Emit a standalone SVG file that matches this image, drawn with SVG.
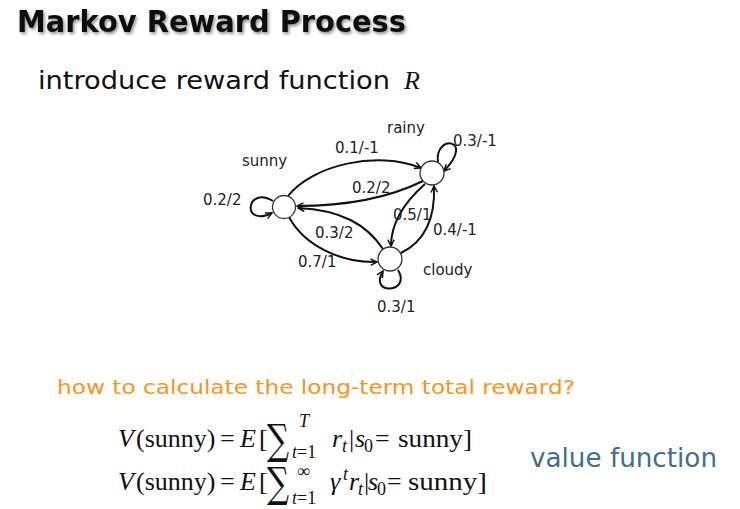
<svg xmlns="http://www.w3.org/2000/svg" width="740" height="509" viewBox="0 0 740 509">
<defs>
<filter id="shadow" x="-5%" y="-30%" width="110%" height="170%">
<feDropShadow dx="1.5" dy="2" stdDeviation="1.6" flood-color="#444" flood-opacity="0.6"/>
</filter>
<marker id="arr" viewBox="0 0 10 10" refX="9" refY="5" markerWidth="8" markerHeight="8" markerUnits="userSpaceOnUse" orient="auto">
<path d="M1,1 L9,5 L1,9" fill="none" stroke="#111" stroke-width="1.8" stroke-linejoin="miter"/>
</marker>
<style>
.hand{font-family:"Comic Sans MS","DejaVu Sans",sans-serif;}
.lbl{font-family:"Comic Sans MS","DejaVu Sans",sans-serif;font-size:15px;fill:#222;}
.node{fill:#fff;stroke:#333;stroke-width:1.3;}
.edge{fill:none;stroke:#111;stroke-width:2;marker-end:url(#arr);}
.m{font-family:"Liberation Serif","DejaVu Serif",serif;font-size:26px;fill:#111;}
.sig{font-family:"DejaVu Serif",serif;font-size:31px;fill:#111;}
.mi{font-style:italic;}
.s{font-size:18px;}
</style>
</defs>
<rect width="740" height="509" fill="#fff"/>

<text class="hand" x="17" y="32" font-size="30" font-weight="bold" fill="#111" textLength="389" lengthAdjust="spacingAndGlyphs" filter="url(#shadow)">Markov Reward Process</text>
<text class="hand" x="38" y="89" font-size="25" fill="#111" textLength="352" lengthAdjust="spacingAndGlyphs">introduce reward function</text>
<text class="m mi" x="404" y="89" font-size="27">R</text>

<g id="connectors">
<path class="edge" d="M288,196 C312,165 378,150 421,168"/>
<path class="edge" d="M423,181 Q372,206 297,206"/>
<path class="edge" d="M383,249 C367,225 342,210 298,208"/>
<path class="edge" d="M289,217 C304,245 340,263 377,262"/>
<path class="edge" d="M425,184 Q391,214 391,246"/>
<path class="edge" d="M401,253 Q436,236 434,186"/>
<path class="edge" d="M273,201 C246,185 241,228 272,213"/>
<path class="edge" d="M438,162 C434,134 476,138 444,171"/>
<path class="edge" d="M398,270 C412,293 368,296 383,271"/>
</g>

<g id="sunny"><circle class="node" cx="284" cy="207" r="11.5"/><text class="lbl" x="242" y="166">sunny</text></g>
<g id="rainy"><circle class="node" cx="432" cy="173" r="12"/><text class="lbl" x="387" y="133">rainy</text></g>
<g id="cloudy"><circle class="node" cx="390" cy="259" r="12"/><text class="lbl" x="423" y="275">cloudy</text></g>

<g id="edge-labels">
<text class="lbl" x="335" y="153">0.1/-1</text>
<text class="lbl" x="453" y="146">0.3/-1</text>
<text class="lbl" x="352" y="193">0.2/2</text>
<text class="lbl" x="203" y="205">0.2/2</text>
<text class="lbl" x="393" y="220">0.5/1</text>
<text class="lbl" x="315" y="238">0.3/2</text>
<text class="lbl" x="433" y="235">0.4/-1</text>
<text class="lbl" x="298" y="267">0.7/1</text>
<text class="lbl" x="377" y="312">0.3/1</text>
</g>

<text class="hand" x="57" y="394" font-size="20" fill="#F7941D" textLength="518" lengthAdjust="spacingAndGlyphs">how to calculate the long-term total reward?</text>

<g id="eq1">
<text class="m mi" x="118" y="447">V</text>
<text class="m" x="136" y="447">(sunny)</text>
<text class="m" x="220" y="447">=</text>
<text class="m mi" x="240" y="447">E</text>
<text class="m" x="259" y="447">[</text>
<text class="sig" transform="translate(267,454) scale(1,1.35)">∑</text>
<text class="m mi s" x="299" y="427">T</text>
<text class="m s" x="292" y="458"><tspan font-style="italic">t</tspan>=1</text>
<text class="m mi" x="332" y="447">r</text>
<text class="m mi s" x="342" y="452">t</text>
<text class="m" x="349" y="447">|</text>
<text class="m mi" x="355" y="447">s</text>
<text class="m s" x="364" y="452">0</text>
<text class="m" x="375" y="447">=</text>
<text class="m" x="398" y="447" textLength="74" lengthAdjust="spacingAndGlyphs">sunny]</text>
</g>

<g id="eq2">
<text class="m mi" x="118" y="490">V</text>
<text class="m" x="136" y="490">(sunny)</text>
<text class="m" x="220" y="490">=</text>
<text class="m mi" x="240" y="490">E</text>
<text class="m" x="259" y="490">[</text>
<text class="sig" transform="translate(267,497) scale(1,1.35)">∑</text>
<text class="m s" x="297" y="477">∞</text>
<text class="m s" x="292" y="504"><tspan font-style="italic">t</tspan>=1</text>
<text class="m mi" x="330" y="490">γ</text>
<text class="m mi s" x="343" y="480">t</text>
<text class="m mi" x="349" y="490">r</text>
<text class="m mi s" x="358" y="495">t</text>
<text class="m" x="364" y="490">|</text>
<text class="m mi" x="368" y="490">s</text>
<text class="m s" x="377" y="495">0</text>
<text class="m" x="387" y="490">=</text>
<text class="m" x="408" y="490" textLength="79" lengthAdjust="spacingAndGlyphs">sunny]</text>
</g>

<text class="hand" x="530" y="467" font-size="26" fill="#3F6F8F" textLength="187" lengthAdjust="spacingAndGlyphs">value function</text>
</svg>
